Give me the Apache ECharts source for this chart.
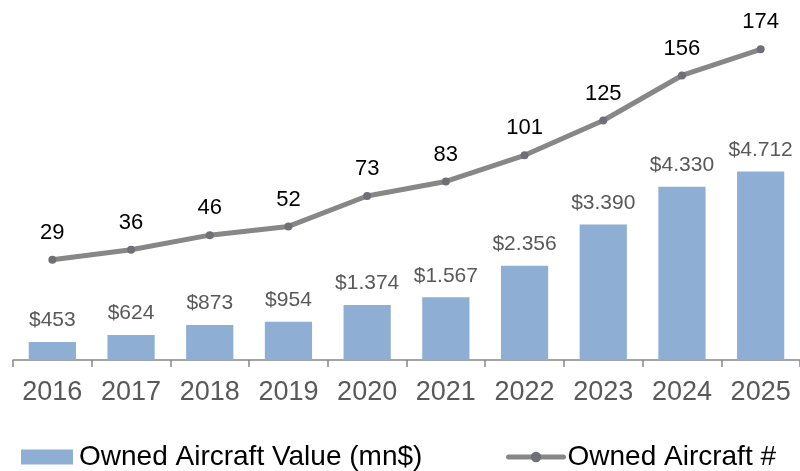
<!DOCTYPE html>
<html>
<head>
<meta charset="utf-8">
<script src="https://cdn.jsdelivr.net/npm/echarts@6/dist/echarts.min.js"></script>
<style>
  html, body { margin: 0; padding: 0; background: #ffffff; }
  #chart { width: 800px; height: 471px; }
</style>
</head>
<body>
<div id="chart"></div>
<script>
const years = ['2016', '2017', '2018', '2019', '2020', '2021', '2022', '2023', '2024', '2025']
const aircraftValue = [453, 624, 873, 954, 1374, 1567, 2356, 3390, 4330, 4712]
const aircraftCount = [29, 36, 46, 52, 73, 83, 101, 125, 156, 174]

const font = 'Liberation Sans, Arial, sans-serif'

// $1.374 style: dot as thousands separator
function money(v) {
  return '$' + String(v).replace(/\B(?=(\d{3})+(?!\d))/g, '.')
}

const myChart = echarts.init(document.getElementById('chart'))
myChart.setOption({
  animation: false,
  grid: { top: 0, left: 13, right: -2, bottom: 111 },
  legend: [
    {
      data: [{ name: 'Owned Aircraft Value (mn$)', icon: 'rect' }],
      left: 21,
      top: 443,
      padding: 0,
      itemWidth: 52,
      itemHeight: 15,
      itemGap: 0,
      textStyle: { fontFamily: font, fontSize: 28, color: '#000000', padding: [0, 0, 0, 1] }
    },
    {
      data: ['Owned Aircraft #'],
      left: 506,
      top: 443,
      padding: 0,
      itemWidth: 55,
      itemHeight: 13,
      lineStyle: { width: 5, cap: 'round' },
      textStyle: { fontFamily: font, fontSize: 28, color: '#000000', padding: [0, 0, 0, -1] }
    }
  ],
  xAxis: {
    type: 'category',
    data: years,
    boundaryGap: true,
    axisLine: { lineStyle: { color: '#868686', width: 1.5 } },
    axisTick: { show: true, length: 7, lineStyle: { color: '#868686', width: 1.5 } },
    axisLabel: { fontFamily: font, fontSize: 27, color: '#595959', margin: 19 }
  },
  yAxis: [
    { type: 'value', min: 0, max: 9000, show: false, splitLine: { show: false } },
    { type: 'value', min: -40, max: 208, show: false, splitLine: { show: false } }
  ],
  series: [
    {
      name: 'Owned Aircraft Value (mn$)',
      type: 'bar',
      data: aircraftValue,
      barWidth: '60%',
      itemStyle: { color: '#8eaed3' },
      label: {
        show: true,
        position: 'top',
        distance: 11,
        formatter: (p) => money(p.value),
        fontFamily: font,
        fontSize: 21,
        color: '#595959'
      }
    },
    {
      name: 'Owned Aircraft #',
      type: 'line',
      yAxisIndex: 1,
      data: aircraftCount,
      symbol: 'circle',
      symbolSize: 8,
      lineStyle: { color: '#878787', width: 5 },
      itemStyle: { color: '#6f6f78' },
      label: {
        show: true,
        position: 'top',
        distance: 12,
        fontFamily: font,
        fontSize: 22,
        color: '#000000'
      }
    }
  ]
})
window.addEventListener('resize', () => {
  myChart.resize()
})
</script>
</body>
</html>
